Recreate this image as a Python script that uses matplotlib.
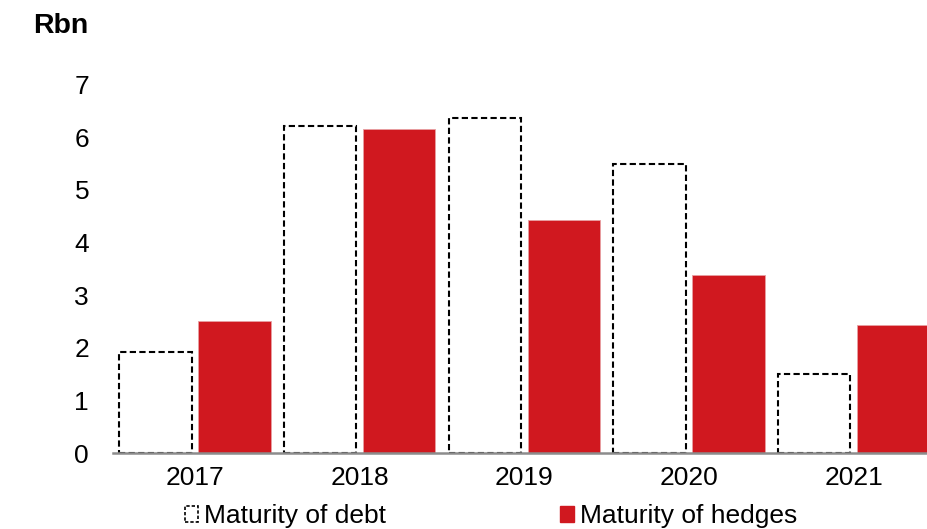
import matplotlib
matplotlib.use("Agg")
import matplotlib.pyplot as plt
from matplotlib.patches import Patch
import numpy as np

years = ["2017", "2018", "2019", "2020", "2021"]
debt = [1.92, 6.22, 6.36, 5.49, 1.50]
hedges = [2.51, 6.16, 4.42, 3.39, 2.44]
yticks = [0, 1, 2, 3, 4, 5, 6, 7]

plt.rcParams['font.family'] = ['Liberation Sans', 'DejaVu Sans']
FS = 19
RED = '#D0181F'

fig = plt.figure(figsize=(9.27, 5.29), dpi=100)
W, H = 927, 529
left, right = 112.7, 936.0
bottom, top = 453.3, 84.5
ax = fig.add_axes([left / W, (H - bottom) / H, (right - left) / W, (bottom - top) / H])

x = np.arange(len(years))
bw = 0.44
off = 0.24
ax.bar(x - off, debt, width=bw, facecolor='white', edgecolor='black',
       linestyle=(0, (3, 1.6)), linewidth=1.5, zorder=2)
ax.bar(x + off, hedges, width=bw, color=RED, edgecolor='#E8A0A3', linewidth=0.6, zorder=2)

ax.set_xlim(-0.5, len(years) - 0.5)
ax.set_ylim(0, 7)
ax.set_yticks(yticks)
ax.set_yticklabels([str(t) for t in yticks], fontsize=FS)
ax.set_xticks(x)
ax.set_xticklabels(years, fontsize=FS)
ax.tick_params(axis='y', length=0, pad=17)
ax.tick_params(axis='x', length=0, pad=9.5)
for s in ['top', 'right', 'left']:
    ax.spines[s].set_visible(False)
ax.spines['bottom'].set_color('#8C8C8C')
ax.spines['bottom'].set_linewidth(1.8)
ax.spines['bottom'].set_zorder(3)

fig.text(33 / W, 1 - 26 / H, "Rbn", fontsize=20.5, fontweight='bold', ha='left', va='center')

handles = [Patch(facecolor='white', edgecolor='black', linestyle=(0, (2, 1.2)), linewidth=1.2,
                 label='Maturity of debt'),
           Patch(facecolor=RED, edgecolor=RED, label='Maturity of hedges')]
fig.legend(handles=handles, loc='center', bbox_to_anchor=(491 / W, 1 - 516 / H), ncol=2,
           frameon=False, fontsize=FS, handlelength=0.5, handleheight=0.55,
           handletextpad=0.25, columnspacing=6.6, borderpad=0, borderaxespad=0)

fig.savefig("out.png", dpi=100)
